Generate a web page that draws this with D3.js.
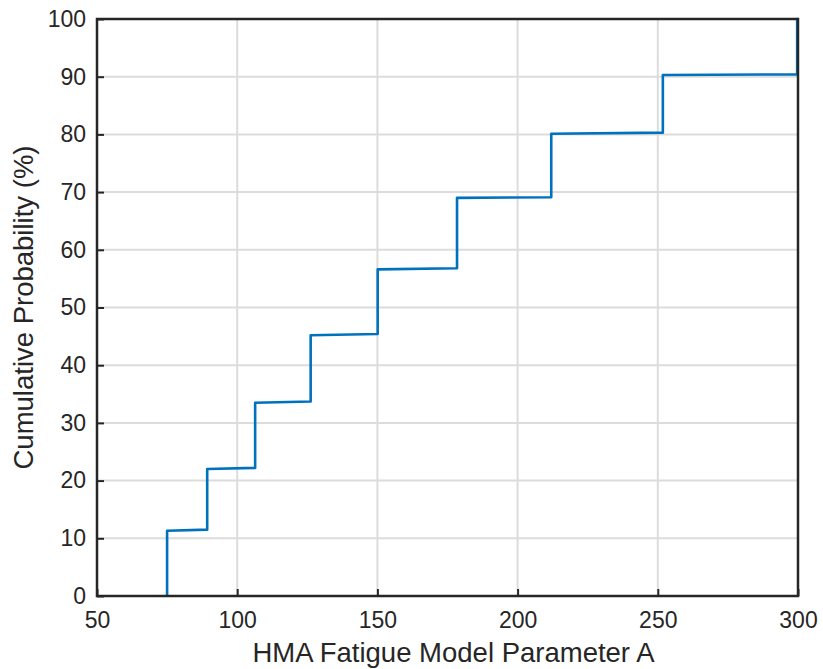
<!DOCTYPE html>
<html>
<head>
<meta charset="utf-8">
<script src="https://cdn.jsdelivr.net/npm/d3@7"></script>
<style>
  body { margin: 0; background: #fff; }
  text { font-family: "Liberation Sans", Arial, sans-serif; fill: #262626; }
</style>
</head>
<body>
<svg id="chart" width="823" height="669"></svg>
<script>
var stepX = [75, 89.3, 106.4, 126.2, 150.1, 178.4, 212, 251.8, 299.7];
var levelStart = [11.3, 22.0, 33.5, 45.2, 56.6, 69.0, 80.1, 90.3, 100];
var levelEnd = [11.5, 22.2, 33.7, 45.4, 56.8, 69.1, 80.3, 90.4, 100];
var xTicks = [50, 100, 150, 200, 250, 300];
var yTicks = [0, 10, 20, 30, 40, 50, 60, 70, 80, 90, 100];

var svg = d3.select("#chart"),
    margin = { top: 19, left: 97, bottom: 73, right: 25 },
    width = +svg.attr("width"),
    height = +svg.attr("height");

var x = d3.scaleLinear().domain([50, 300]).range([margin.left, width - margin.right]);
var y = d3.scaleLinear().domain([0, 100]).range([height - margin.bottom, margin.top]);

// grid
svg.append("g").selectAll("line")
    .data(xTicks.slice(1, -1))
    .enter().append("line")
    .attr("x1", d => x(d)).attr("x2", d => x(d))
    .attr("y1", y(0)).attr("y2", y(100))
    .attr("stroke", "#dcdcdc").attr("stroke-width", 2);

svg.append("g").selectAll("line")
    .data(yTicks.slice(1, -1))
    .enter().append("line")
    .attr("y1", d => y(d)).attr("y2", d => y(d))
    .attr("x1", x(50)).attr("x2", x(300))
    .attr("stroke", "#dcdcdc").attr("stroke-width", 2);

// build the stair points
var pts = [[stepX[0], 0]];
stepX.forEach(function (sx, i) {
    pts.push([sx, levelStart[i]]);
    if (i < stepX.length - 1) pts.push([stepX[i + 1], levelEnd[i]]);
});
pts.push([300, 100]);

var line = d3.line().x(d => x(d[0])).y(d => y(d[1]));

svg.append("path")
    .datum(pts)
    .attr("d", line)
    .attr("fill", "none")
    .attr("stroke", "#0072BD")
    .attr("stroke-width", 2.6)
    .attr("stroke-linejoin", "round");

// axes (ticks inside, MATLAB style)
var xAxis = svg.append("g")
    .attr("transform", `translate(0,${y(0)})`)
    .call(d3.axisBottom(x).tickValues(xTicks).tickSizeInner(-7).tickSizeOuter(0).tickPadding(16));

var yAxis = svg.append("g")
    .attr("transform", `translate(${x(50)},0)`)
    .call(d3.axisLeft(y).tickValues(yTicks).tickSizeInner(-7).tickSizeOuter(0).tickPadding(11));

[xAxis, yAxis].forEach(function (g) {
    g.selectAll("text").style("font-size", "23px").attr("fill", "#262626");
    g.selectAll("line").attr("stroke", "#262626").attr("stroke-width", 2);
    g.select(".domain").remove();
});
xAxis.selectAll("text").attr("dy", "0.71em");

// box
svg.append("rect")
    .attr("x", x(50)).attr("y", y(100))
    .attr("width", x(300) - x(50)).attr("height", y(0) - y(100))
    .attr("fill", "none").attr("stroke", "#262626").attr("stroke-width", 2.5);

// labels
svg.append("text")
    .attr("x", (x(50) + x(300)) / 2 + 6)
    .attr("y", 662)
    .attr("text-anchor", "middle")
    .style("font-size", "27.5px")
    .text("HMA Fatigue Model Parameter A");

svg.append("text")
    .attr("transform", `translate(33,${(y(0) + y(100)) / 2}) rotate(-90)`)
    .attr("text-anchor", "middle")
    .style("font-size", "27.5px")
    .text("Cumulative Probability (%)");
</script>
</body>
</html>
